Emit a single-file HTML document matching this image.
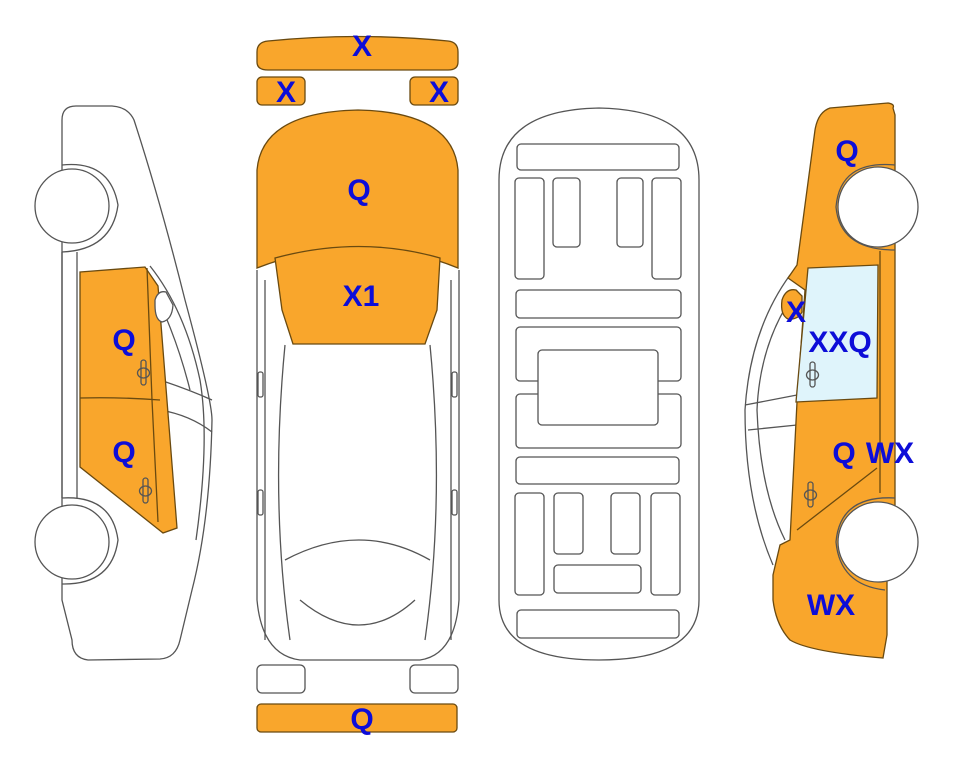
<!DOCTYPE html>
<html><head><meta charset="utf-8"><style>
html,body{margin:0;padding:0;background:#fff;}
svg{display:block}
text{font-family:"Liberation Sans",Arial,sans-serif;font-weight:bold;fill:#0d0dd8;font-size:30px;text-anchor:middle}
</style></head><body>
<svg width="963" height="768" viewBox="0 0 963 768" xmlns="http://www.w3.org/2000/svg">
<g fill="none" stroke="#555" stroke-width="1.3">

<!-- LEFT CAR -->
<path d="M62,120 Q62,106 76,106 L112,106 Q128,107 134,120 Q160,200 185,300 Q212,400 212,420 Q210,520 192,590 L180,640 Q176,658 160,659 L88,660 Q72,658 72,640 L62,600 Z" fill="#fff"/>
<circle cx="72" cy="206" r="37" fill="#fff"/>
<path d="M62,165 Q110,160 118,205 Q112,250 62,252"/>
<circle cx="72" cy="542" r="37" fill="#fff"/>
<path d="M62,498 Q112,495 118,540 Q112,585 62,584"/>
<path d="M62,252 L62,498 M77,252 L77,498"/>
<path d="M150,266 Q185,310 200,380 Q210,440 196,540 M147,277 Q175,330 190,390"/>
<path d="M160,380 Q190,390 212,400 M160,410 Q190,415 212,432"/>
<polygon points="80,272 145,267 158,286 177,528 163,533 80,467" fill="#f9a62c" stroke="#6a4a10"/>
<path d="M80,398 Q120,397 160,400 M147,268 L152,400 L158,522" stroke="#6a4a10"/>
<path d="M155,300 Q158,290 166,292 L173,305 Q172,320 162,322 Q155,320 155,305 Z" fill="#fff"/>
<rect x="141" y="360" width="5" height="25" rx="2.5"/><ellipse cx="143.5" cy="373" rx="6" ry="5"/>
<rect x="143" y="478" width="5" height="25" rx="2.5"/><ellipse cx="145.5" cy="491" rx="6" ry="5"/>

<!-- MIDDLE TOP VIEW -->
<path d="M257,52 Q257,42 268,41 Q358,32 448,41 Q458,42 458,52 L458,62 Q458,70 448,70 L268,70 Q257,70 257,62 Z" fill="#f9a62c" stroke="#6a4a10"/>
<rect x="257" y="77" width="48" height="28" rx="5" fill="#f9a62c" stroke="#6a4a10"/>
<rect x="410" y="77" width="48" height="28" rx="5" fill="#f9a62c" stroke="#6a4a10"/>
<path d="M257,270 L257,600 Q262,655 300,660 L420,660 Q455,655 459,600 L459,270" fill="#fff"/>
<path d="M265,280 L265,640 M451,280 L451,640 M285,345 Q270,500 290,640 M430,345 Q445,500 425,640 M300,600 Q360,650 415,600 M285,560 Q360,520 430,560"/>
<rect x="258" y="372" width="5" height="25" rx="2"/><rect x="452" y="372" width="5" height="25" rx="2"/>
<rect x="258" y="490" width="5" height="25" rx="2"/><rect x="452" y="490" width="5" height="25" rx="2"/>
<path d="M257,170 Q262,112 358,110 Q453,112 458,170 L458,268 Q360,228 257,268 Z" fill="#f9a62c" stroke="#6a4a10"/>
<path d="M275,258 Q360,235 440,258 L437,310 L425,344 L293,344 L282,310 Z" fill="#f9a62c" stroke="#6a4a10"/>
<rect x="257" y="665" width="48" height="28" rx="5" fill="#fff"/>
<rect x="410" y="665" width="48" height="28" rx="5" fill="#fff"/>
<rect x="257" y="704" width="200" height="28" rx="4" fill="#f9a62c" stroke="#6a4a10"/>

<!-- UNDERSIDE -->
<path d="M499,180 Q499,110 599,108 Q699,110 699,180 L699,600 Q699,660 599,660 Q499,660 499,600 Z" fill="#fff"/>
<rect x="517" y="144" width="162" height="26" rx="4"/>
<rect x="515" y="178" width="29" height="101" rx="4"/>
<rect x="553" y="178" width="27" height="69" rx="4"/>
<rect x="617" y="178" width="26" height="69" rx="4"/>
<rect x="652" y="178" width="29" height="101" rx="4"/>
<rect x="516" y="290" width="165" height="28" rx="4"/>
<rect x="516" y="327" width="165" height="54" rx="4"/>
<rect x="516" y="394" width="165" height="54" rx="4"/>
<rect x="538" y="350" width="120" height="75" rx="4" fill="#fff"/>
<rect x="516" y="457" width="163" height="27" rx="4"/>
<rect x="515" y="493" width="29" height="102" rx="4"/>
<rect x="554" y="493" width="29" height="61" rx="4"/>
<rect x="611" y="493" width="29" height="61" rx="4"/>
<rect x="651" y="493" width="29" height="102" rx="4"/>
<rect x="554" y="565" width="87" height="28" rx="4"/>
<rect x="517" y="610" width="162" height="28" rx="4"/>

<!-- RIGHT CAR -->
<path d="M790,275 Q750,330 745,410 Q745,500 773,565" fill="#fff"/>
<path d="M797,290 Q760,340 757,410 Q760,490 785,540 M745,405 L797,395 M748,430 L797,425"/>
<path d="M893,108 Q895,104 888,103 L830,108 Q818,112 815,130 L797,265 L788,278 L805,290 L797,402 L790,540 L780,545 L773,575 L773,600 Q776,625 790,640 Q810,652 883,658 L887,635 L887,560 L895,545 L895,115 Z" fill="#f9a62c" stroke="#6a4a10"/>
<path d="M808,268 L878,265 L877,398 L796,402 Z" fill="#dff4fb" stroke="#6a4a10"/>
<path d="M782,300 Q786,288 796,290 L802,296 L802,312 Q798,320 788,319 Q780,315 782,300 Z" fill="#f9a62c" stroke="#6a4a10"/>
<path d="M880,251 L880,493 M877,468 L797,530" stroke="#6a4a10"/>
<circle cx="878" cy="207" r="40" fill="#fff"/>
<path d="M895,165 Q840,160 836,207 Q840,250 895,250"/>
<circle cx="878" cy="542" r="40" fill="#fff"/>
<path d="M895,498 Q840,495 836,542 Q840,585 885,590"/>
<rect x="810" y="362" width="5" height="25" rx="2.5"/><ellipse cx="812.5" cy="375" rx="6" ry="5"/>
<rect x="808" y="482" width="5" height="25" rx="2.5"/><ellipse cx="810.5" cy="495" rx="6" ry="5"/>
</g>

<text x="362" y="56">X</text>
<text x="286" y="102">X</text>
<text x="439" y="102">X</text>
<text x="359" y="200">Q</text>
<text x="361" y="306">X1</text>
<text x="362" y="729">Q</text>
<text x="124" y="350">Q</text>
<text x="124" y="462">Q</text>
<text x="847" y="161">Q</text>
<text x="796" y="322">X</text>
<text x="840" y="352">XXQ</text>
<text x="844" y="463">Q</text>
<text x="890" y="463">WX</text>
<text x="831" y="615">WX</text>
</svg>
</body></html>
